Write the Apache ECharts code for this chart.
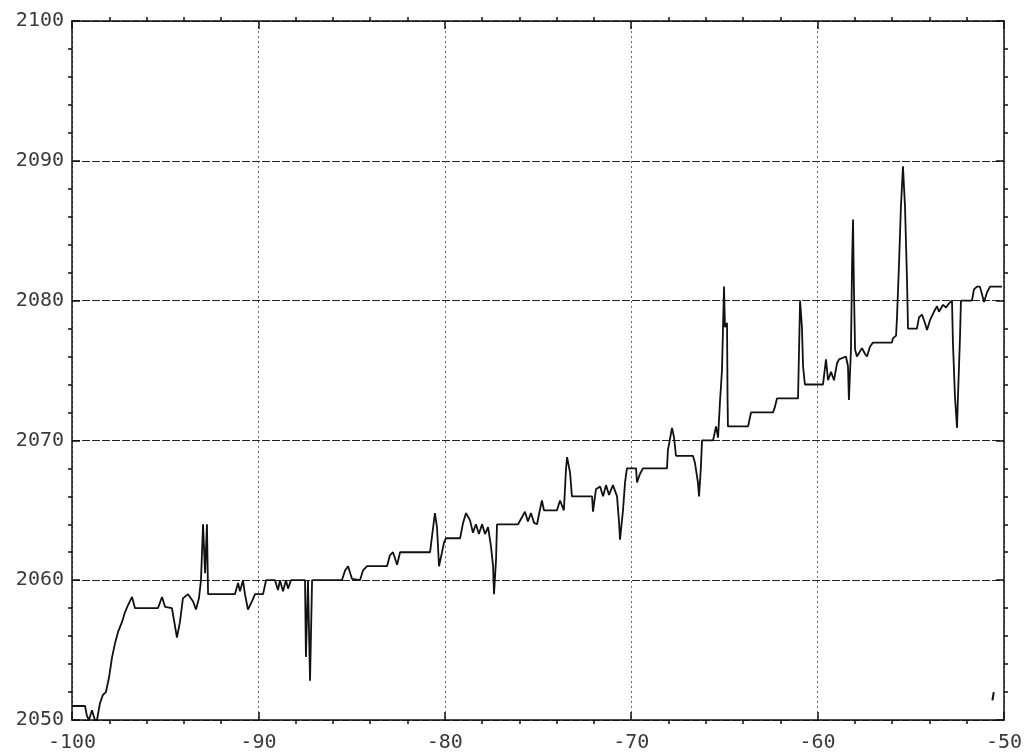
<!DOCTYPE html>
<html>
<head>
<meta charset="utf-8">
<title>trace</title>
<script src="https://cdn.jsdelivr.net/npm/echarts@6/dist/echarts.min.js"></script>
<style>
  html, body { margin: 0; padding: 0; background: #fff; }
  #chart { width: 1034px; height: 755px; }
</style>
</head>
<body>
<div id="chart"></div>
<script>
  // trace values
  const xs = [
    -100, -99.30, -99.20, -99.09, -98.93, -98.77, -98.66, -98.50, -98.34, -98.18,
    -98.02, -97.85, -97.69, -97.53, -97.32, -97.16, -97.00, -96.78, -96.62, -95.39,
    -95.17, -95.01, -94.64, -94.37, -94.21, -94.05, -93.78, -93.51, -93.35, -93.19,
    -93.08, -92.97, -92.86, -92.76, -92.70, -91.26, -91.09, -90.99, -90.83, -90.72,
    -90.56, -90.34, -90.18, -89.75, -89.59, -89.11, -88.95, -88.84, -88.68, -88.52,
    -88.41, -88.25, -87.50, -87.45, -87.34, -87.23, -87.12, -85.52, -85.35, -85.19,
    -84.98, -84.55, -84.39, -84.17, -83.10, -82.94, -82.78, -82.56, -82.40, -80.79,
    -80.69, -80.53, -80.42, -80.31, -80.15, -80.04, -79.94, -79.18, -79.02, -78.86,
    -78.65, -78.49, -78.33, -78.17, -78.00, -77.84, -77.68, -77.52, -77.41, -77.36,
    -77.25, -77.20, -76.07, -75.86, -75.70, -75.54, -75.38, -75.21, -75.05, -74.95,
    -74.79, -74.68, -73.98, -73.82, -73.61, -73.50, -73.44, -73.28, -73.18, -72.10,
    -72.05, -71.89, -71.67, -71.51, -71.35, -71.19, -70.98, -70.76, -70.65, -70.60,
    -70.44, -70.33, -70.23, -69.74, -69.69, -69.53, -69.37, -68.08, -68.03, -67.81,
    -67.70, -67.60, -66.69, -66.58, -66.42, -66.36, -66.26, -66.20, -65.61, -65.56,
    -65.45, -65.34, -65.24, -65.13, -65.02, -64.97, -64.86, -64.83, -64.81, -63.73,
    -63.57, -62.39, -62.29, -62.18, -61.21, -61.05, -60.94, -60.84, -60.78, -60.68,
    -59.71, -59.55, -59.44, -59.28, -59.12, -58.96, -58.85, -58.48, -58.37, -58.32,
    -58.21, -58.15, -58.10, -58.05, -57.99, -57.89, -57.62, -57.46, -57.35, -57.19,
    -57.03, -56.01, -55.96, -55.79, -55.74, -55.63, -55.53, -55.42, -55.36, -55.31,
    -55.20, -55.15, -54.67, -54.56, -54.40, -54.24, -54.13, -53.97, -53.76, -53.59,
    -53.49, -53.27, -53.11, -52.95, -52.79, -52.74, -52.63, -52.52, -52.47, -52.36,
    -52.31, -51.72, -51.61, -51.45, -51.29, -51.07, -50.91, -50.75, -50.11
  ];
  const ys = [
    2051, 2051, 2050.3, 2050, 2050.7, 2050, 2050, 2051.2, 2051.8, 2052,
    2053, 2054.5, 2055.5, 2056.3, 2057, 2057.7, 2058.2, 2058.8, 2058, 2058,
    2058.8, 2058.1, 2058, 2055.9, 2057, 2058.7, 2059, 2058.5, 2057.9, 2058.7,
    2060, 2064, 2060.5, 2064, 2059, 2059, 2059.8, 2059.2, 2060, 2059,
    2057.9, 2058.5, 2059, 2059, 2060, 2060, 2059.3, 2060, 2059.2, 2060,
    2059.4, 2060, 2060, 2054.5, 2060, 2052.8, 2060, 2060, 2060.7, 2061,
    2060.1, 2060, 2060.7, 2061, 2061, 2061.8, 2062, 2061.1, 2062, 2062,
    2063.1, 2064.8, 2063.8, 2061, 2062, 2062.7, 2063, 2063, 2064.1, 2064.8,
    2064.3, 2063.4, 2064, 2063.3, 2064, 2063.3, 2063.8, 2062.4, 2061, 2059,
    2061.5, 2064, 2064, 2064.5, 2064.9, 2064.2, 2064.8, 2064.1, 2064, 2064.7,
    2065.7, 2065, 2065, 2065.7, 2065, 2067.9, 2068.8, 2067.7, 2066, 2066,
    2064.9, 2066.5, 2066.7, 2066, 2066.8, 2066.1, 2066.8, 2066, 2064.1, 2062.9,
    2065, 2067, 2068, 2068, 2067, 2067.6, 2068, 2068, 2069.3, 2070.9,
    2070.2, 2068.9, 2068.9, 2068.4, 2067, 2066, 2068.1, 2070, 2070, 2070.3,
    2071, 2070.2, 2072.7, 2075, 2081, 2078.1, 2078.4, 2072.9, 2071, 2071,
    2072, 2072, 2072.4, 2073, 2073, 2073, 2080, 2078.1, 2075.3, 2074,
    2074, 2075.8, 2074.3, 2074.9, 2074.3, 2075.5, 2075.8, 2076, 2075.3, 2072.9,
    2076.5, 2082.7, 2085.8, 2080.8, 2076.5, 2076, 2076.6, 2076.2, 2076, 2076.7,
    2077, 2077, 2077.3, 2077.5, 2078.8, 2082.7, 2086.7, 2089.6, 2088, 2086.7,
    2081.3, 2078, 2078, 2078.8, 2079, 2078.4, 2077.9, 2078.6, 2079.2, 2079.6,
    2079.2, 2079.7, 2079.5, 2079.8, 2080, 2077, 2073.1, 2070.9, 2073.1, 2077.4,
    2080, 2080, 2080.8, 2081, 2081, 2079.9, 2080.6, 2081, 2081
  ];
  // little stray stroke near the bottom right corner
  const strayX = [-50.62, -50.55];
  const strayY = [2051.4, 2052.0];

  let trace = xs.map((x, i) => [x, ys[i]]);
  let stray = strayX.map((x, i) => [x, strayY[i]]);

  let chart = echarts.init(document.getElementById('chart'));

  let labelFont = {
    fontFamily: 'DejaVu Sans Mono',
    fontSize: 20,
    color: '#3a3a3a',
    formatter: v => String(v)
  };
  let boxLine = {show: true, onZero: false, lineStyle: {color: '#111', width: 1.5}};
  let tick = {show: true, inside: true, length: 8, lineStyle: {color: '#111', width: 1.5}};
  let minor = {show: true, splitNumber: 5, length: -4, lineStyle: {color: '#111', width: 1.5}};

  function xAxisCfg(pos, labels) {
    return {
      type: 'value',
      position: pos,
      min: -100,
      max: -50,
      interval: 10,
      axisLine: boxLine,
      axisTick: tick,
      minorTick: minor,
      axisLabel: Object.assign({show: labels, margin: 13}, labelFont),
      splitLine: {
        show: labels,
        lineStyle: {color: '#666', type: [2, 3], width: 1}
      }
    }
  }
  function yAxisCfg(pos, labels) {
    return {
      type: 'value',
      position: pos,
      min: 2050,
      max: 2100,
      interval: 10,
      axisLine: boxLine,
      axisTick: tick,
      minorTick: minor,
      axisLabel: Object.assign({show: labels, margin: 8}, labelFont),
      splitLine: {
        show: labels,
        lineStyle: {color: '#222', type: [8, 2], width: 1.2}
      }
    }
  }

  let option = {
    animation: false,
    backgroundColor: '#fff',
    grid: {left: 72, right: 30, top: 21, bottom: 35},
    xAxis: [xAxisCfg('bottom', true), xAxisCfg('top', false)],
    yAxis: [yAxisCfg('left', true), yAxisCfg('right', false)],
    series: [
      {
        name: 'trace',
        type: 'line',
        data: trace,
        showSymbol: false,
        lineStyle: {color: '#111', width: 1.8},
        z: 5
      },
      {
        name: 'stray',
        type: 'line',
        data: stray,
        showSymbol: false,
        lineStyle: {color: '#111', width: 2}
      }
    ]
  };
  chart.setOption(option);
</script>
</body>
</html>
